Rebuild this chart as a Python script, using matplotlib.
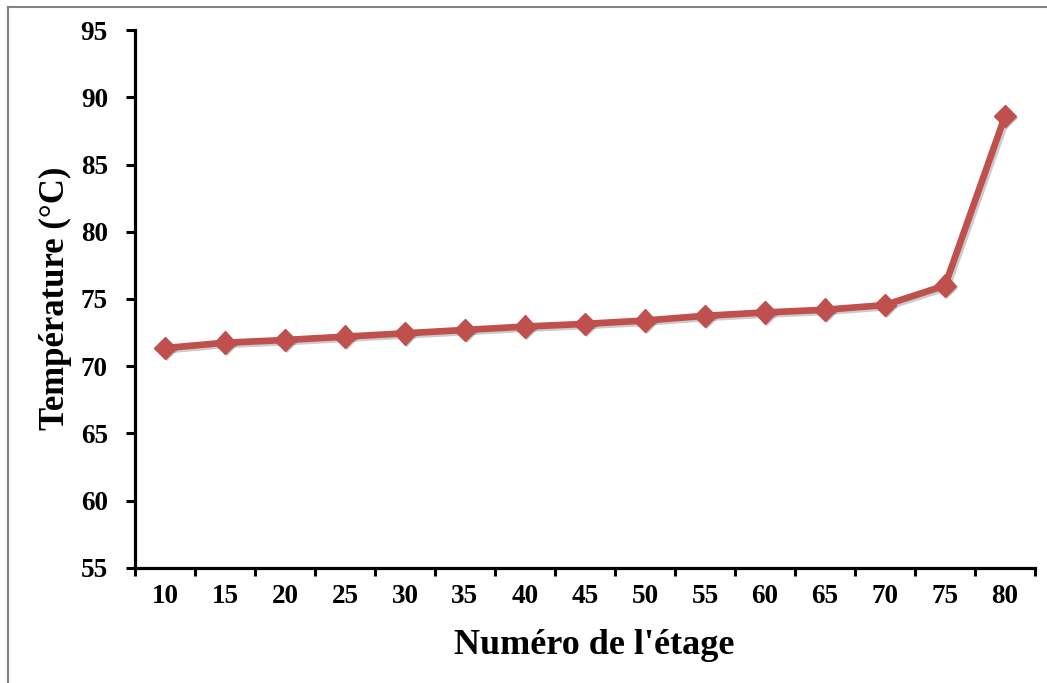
import matplotlib
matplotlib.use("Agg")
import matplotlib.pyplot as plt
import matplotlib.patheffects as pe
from matplotlib.lines import Line2D

# Stage numbers and temperature profile
etages = ["10", "15", "20", "25", "30", "35", "40", "45",
          "50", "55", "60", "65", "70", "75", "80"]
temperatures = [71.35, 71.75, 71.95, 72.2, 72.45, 72.7, 72.95, 73.15,
                73.4, 73.75, 74.0, 74.2, 74.55, 76.0, 88.6]
y_ticks = [55, 60, 65, 70, 75, 80, 85, 90, 95]

plt.rcParams["font.family"] = ["Liberation Serif", "DejaVu Serif"]
plt.rcParams["font.weight"] = "bold"

W, H = 1047, 683
fig = plt.figure(figsize=(W / 100, H / 100), dpi=100)
ax = fig.add_axes([135 / W, 1 - 568 / H, 900 / W, 538 / H])

x = list(range(len(etages)))
red = "#C0504D"

# connecting line with a soft drop shadow
ax.plot(x, temperatures, color=red, linewidth=4.8, solid_joinstyle="miter",
        solid_capstyle="butt", clip_on=False,
        path_effects=[pe.SimpleLineShadow(offset=(1.5, -1.5), shadow_color="#555555", alpha=0.3),
                      pe.Normal()])
# diamond markers with their own shadow
ax.plot(x, temperatures, linestyle="none", marker="D", markersize=11.5,
        markeredgecolor=red, markerfacecolor=red, clip_on=False,
        path_effects=[pe.SimplePatchShadow(offset=(1.5, -1.5), shadow_rgbFace="#555555", alpha=0.35),
                      pe.Normal()])

ax.set_xlim(-0.5, len(etages) - 0.5)
ax.set_ylim(55, 95)

# category labels centred, tick marks on category boundaries
ax.set_xticks(x)
ax.set_xticklabels(etages)
ax.set_xticks([i - 0.5 for i in range(len(etages) + 1)], minor=True)
ax.tick_params(axis="x", which="major", length=0, pad=11.5, labelsize=19.5)
ax.tick_params(axis="x", which="minor", length=5.5, width=2.2, direction="out")

ax.set_yticks(y_ticks)
ax.set_yticklabels([str(v) for v in y_ticks])
ax.tick_params(axis="y", which="major", length=6.5, width=2.2, pad=13, labelsize=19.5, direction="out")

for lab in ax.get_xticklabels() + ax.get_yticklabels():
    lab.set_fontweight("bold")

for side in ("top", "right"):
    ax.spines[side].set_visible(False)
for side in ("left", "bottom"):
    ax.spines[side].set_linewidth(2.3)
    ax.spines[side].set_color("black")

ax.set_xlabel("Numéro de l'étage", fontsize=26, fontweight="bold")
ax.xaxis.set_label_coords(0.51, -0.1126)
ax.set_ylabel("Température (°C)", fontsize=25, fontweight="bold")
ax.yaxis.set_label_coords(-0.0696, 0.502)

# thin grey frame along the top and left edges of the figure
fig.add_artist(Line2D([8 / W, 8 / W], [0, 1 - 7 / H], transform=fig.transFigure,
                      color="#808080", linewidth=1.5))
fig.add_artist(Line2D([8 / W, 1], [1 - 7 / H, 1 - 7 / H], transform=fig.transFigure,
                      color="#808080", linewidth=1.5))

fig.savefig("out.png", dpi=100)
